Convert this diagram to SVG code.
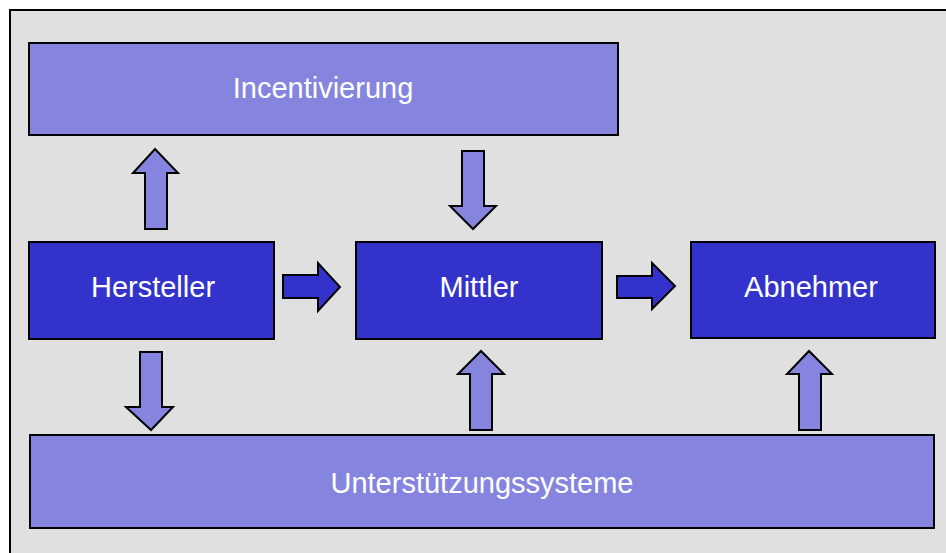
<svg xmlns="http://www.w3.org/2000/svg" width="946" height="553" viewBox="0 0 946 553">
<style>
.frame{fill:#E0E0E0;stroke:#000;stroke-width:2}
.light{fill:#8585E0;stroke:#000;stroke-width:2}
.dark{fill:#3333CC;stroke:#000;stroke-width:2}
.arrowL{fill:#8585E0;stroke:#000;stroke-width:2;stroke-linejoin:miter}
.arrowD{fill:#3333CC;stroke:#000;stroke-width:2;stroke-linejoin:miter}
.lbl{font-family:"Liberation Sans",Arial,sans-serif;font-size:29px;fill:#FFFFFF;text-anchor:middle}
</style>
<rect x="0" y="0" width="946" height="553" fill="#FFFFFF"/>
<rect class="frame" x="10" y="10" width="960" height="580"/>
<g id="incentivierung">
<rect class="light" x="29" y="43" width="589" height="92"/>
<text class="lbl" x="323" y="98">Incentivierung</text>
</g>
<g id="hersteller">
<rect class="dark" x="29" y="242" width="245" height="97"/>
<text class="lbl" x="153" y="297">Hersteller</text>
</g>
<g id="mittler">
<rect class="dark" x="356" y="242" width="246" height="97"/>
<text class="lbl" x="479" y="297">Mittler</text>
</g>
<g id="abnehmer">
<rect class="dark" x="691" y="242" width="244" height="96"/>
<text class="lbl" x="811" y="297">Abnehmer</text>
</g>
<g id="unterstuetzungssysteme">
<rect class="light" x="30" y="435" width="904" height="93"/>
<text class="lbl" x="482" y="493">Unterstützungssysteme</text>
</g>
<g id="connectors">
<polygon class="arrowL" points="145,229 167,229 167,173 178,173 155,149 133,173 145,173"/>
<polygon class="arrowL" points="462,151 484,151 484,206 496,206 473,229 450,206 462,206"/>
<polygon class="arrowL" points="140,352 162,352 162,407 173,407 151,430 126,407 140,407"/>
<polygon class="arrowL" points="470,430 492,430 492,374 504,374 481,351 458,374 470,374"/>
<polygon class="arrowL" points="799,430 821,430 821,374 832,374 809,351 787,374 799,374"/>
<polygon class="arrowD" points="283,275 318,275 318,263 340,287 318,311 318,298 283,298"/>
<polygon class="arrowD" points="617,276 652,276 652,263 675,286 652,309 652,298 617,298"/>
</g>
</svg>
